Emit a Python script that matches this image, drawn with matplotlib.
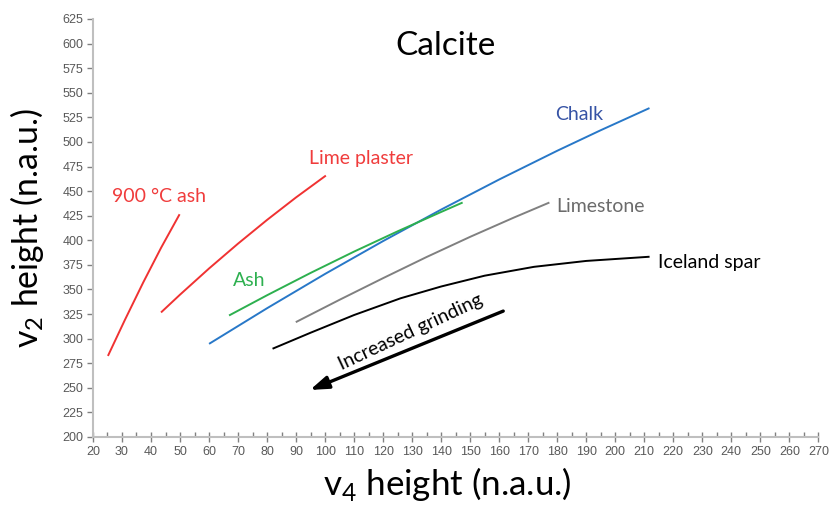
import matplotlib
matplotlib.use("Agg")
import matplotlib.pyplot as plt
from matplotlib.ticker import MultipleLocator

# Curves: (v4 height, v2 height)
ash900_x = [25.3, 31.0, 37.3, 43.5, 49.7]
ash900_y = [283.3, 319.0, 357.0, 392.5, 425.6]

lime_x = [43.7, 50, 60, 70, 80, 90, 100]
lime_y = [327.3, 344.7, 371.3, 396.6, 420.7, 443.6, 465.2]

ash_x = [67.2, 80, 95, 110, 125, 140, 147.1]
ash_y = [324.0, 344.1, 366.8, 388.5, 409.1, 428.8, 438.0]

chalk_x = [60.3, 80, 100, 120, 140, 160, 180, 195, 211.5]
chalk_y = [295.2, 330.9, 365.8, 399.2, 431.2, 461.8, 491.0, 511.9, 534.0]

limestone_x = [90.2, 105, 120, 135, 150, 165, 177]
limestone_y = [317.2, 339.5, 361.5, 383.0, 403.5, 423.0, 438.0]

iceland_x = [82.2, 95, 110, 126, 140, 155, 172, 190, 211.5]
iceland_y = [290.1, 306.0, 324.0, 341.0, 353.0, 364.0, 373.0, 379.0, 383.2]

arrow_start = (161.4, 328.0)
arrow_end = (94.8, 247.8)

plt.rcParams['font.family'] = ['Lato', 'DejaVu Sans']
plt.rcParams['mathtext.fontset'] = 'custom'
plt.rcParams['mathtext.rm'] = 'Lato'

fig = plt.figure(figsize=(8.33, 5.05), dpi=100)
ax = fig.add_axes([0.1116, 0.1347, 0.8708, 0.8277])

ax.plot(ash900_x, ash900_y, color='#f03232', lw=1.4)
ax.plot(lime_x, lime_y, color='#f03232', lw=1.4)
ax.plot(chalk_x, chalk_y, color='#2878c8', lw=1.4)
ax.plot(ash_x, ash_y, color='#2db04f', lw=1.4)
ax.plot(limestone_x, limestone_y, color='#808080', lw=1.4)
ax.plot(iceland_x, iceland_y, color='black', lw=1.4)

ax.annotate('', xy=arrow_end, xytext=arrow_start,
            arrowprops=dict(arrowstyle='-|>,head_length=1.1,head_width=0.38',
                            color='black', lw=2.4, shrinkA=0, shrinkB=0))

# labels
ax.text(141.4, 598, 'Calcite', fontsize=24, ha='center', va='center')
ax.text(187.6, 528.3, 'Chalk', fontsize=14, color='#3653a5', ha='center', va='center')
ax.text(112.4, 483.5, 'Lime plaster', fontsize=14, color='#f03c3c', ha='center', va='center')
ax.text(42.6, 445, '900 °C ash', fontsize=14, color='#f03c3c', ha='center', va='center')
ax.text(73.8, 359.6, 'Ash', fontsize=14, color='#2eb050', ha='center', va='center')
ax.text(179.7, 434.8, 'Limestone', fontsize=14, color='#6b6b6b', ha='left', va='center')
ax.text(214.8, 377.8, 'Iceland spar', fontsize=14, color='black', ha='left', va='center')
ax.text(129.3, 306.7, 'Increased grinding', fontsize=14, rotation=25,
        ha='center', va='center', rotation_mode='anchor')

ax.set_xlim(20, 270)
ax.set_ylim(200, 625)
ax.xaxis.set_major_locator(MultipleLocator(10))
ax.xaxis.set_minor_locator(MultipleLocator(5))
ax.yaxis.set_major_locator(MultipleLocator(25))

for s in ['top', 'right']:
    ax.spines[s].set_visible(False)
for s in ['left', 'bottom']:
    ax.spines[s].set_color('#bfbfbf')
    ax.spines[s].set_linewidth(1.5)

ax.tick_params(axis='x', which='major', direction='inout', length=7, width=1,
               color='#808080', labelsize=9, labelcolor='#595959', pad=3)
ax.tick_params(axis='x', which='minor', direction='in', length=3.5, width=1,
               color='#808080')
ax.tick_params(axis='y', which='major', direction='out', length=4, width=1,
               color='#808080', labelsize=9, labelcolor='#595959', pad=3)
for lbl in ax.get_xticklabels() + ax.get_yticklabels():
    lbl.set_family('Liberation Sans')

ax.set_xlabel(r'v$_\mathregular{4}$ height (n.a.u.)', fontsize=25)
ax.set_ylabel(r'v$_\mathregular{2}$ height (n.a.u.)', fontsize=25)
ax.xaxis.label.set_va('center')
ax.xaxis.set_label_coords(0.488, -0.113)
ax.yaxis.label.set_va('center')
ax.yaxis.label.set_ha('center')
ax.yaxis.set_label_coords(-0.091, 0.50)

# size the axis titles so they span about as far as in the original
renderer = fig.canvas.get_renderer()
xl = ax.xaxis.label
yl = ax.yaxis.label
xl.set_fontsize(25 * 249 / xl.get_window_extent(renderer).width)
yl.set_fontsize(25 * 240 / yl.get_window_extent(renderer).height)

fig.savefig('out.png', dpi=100)
